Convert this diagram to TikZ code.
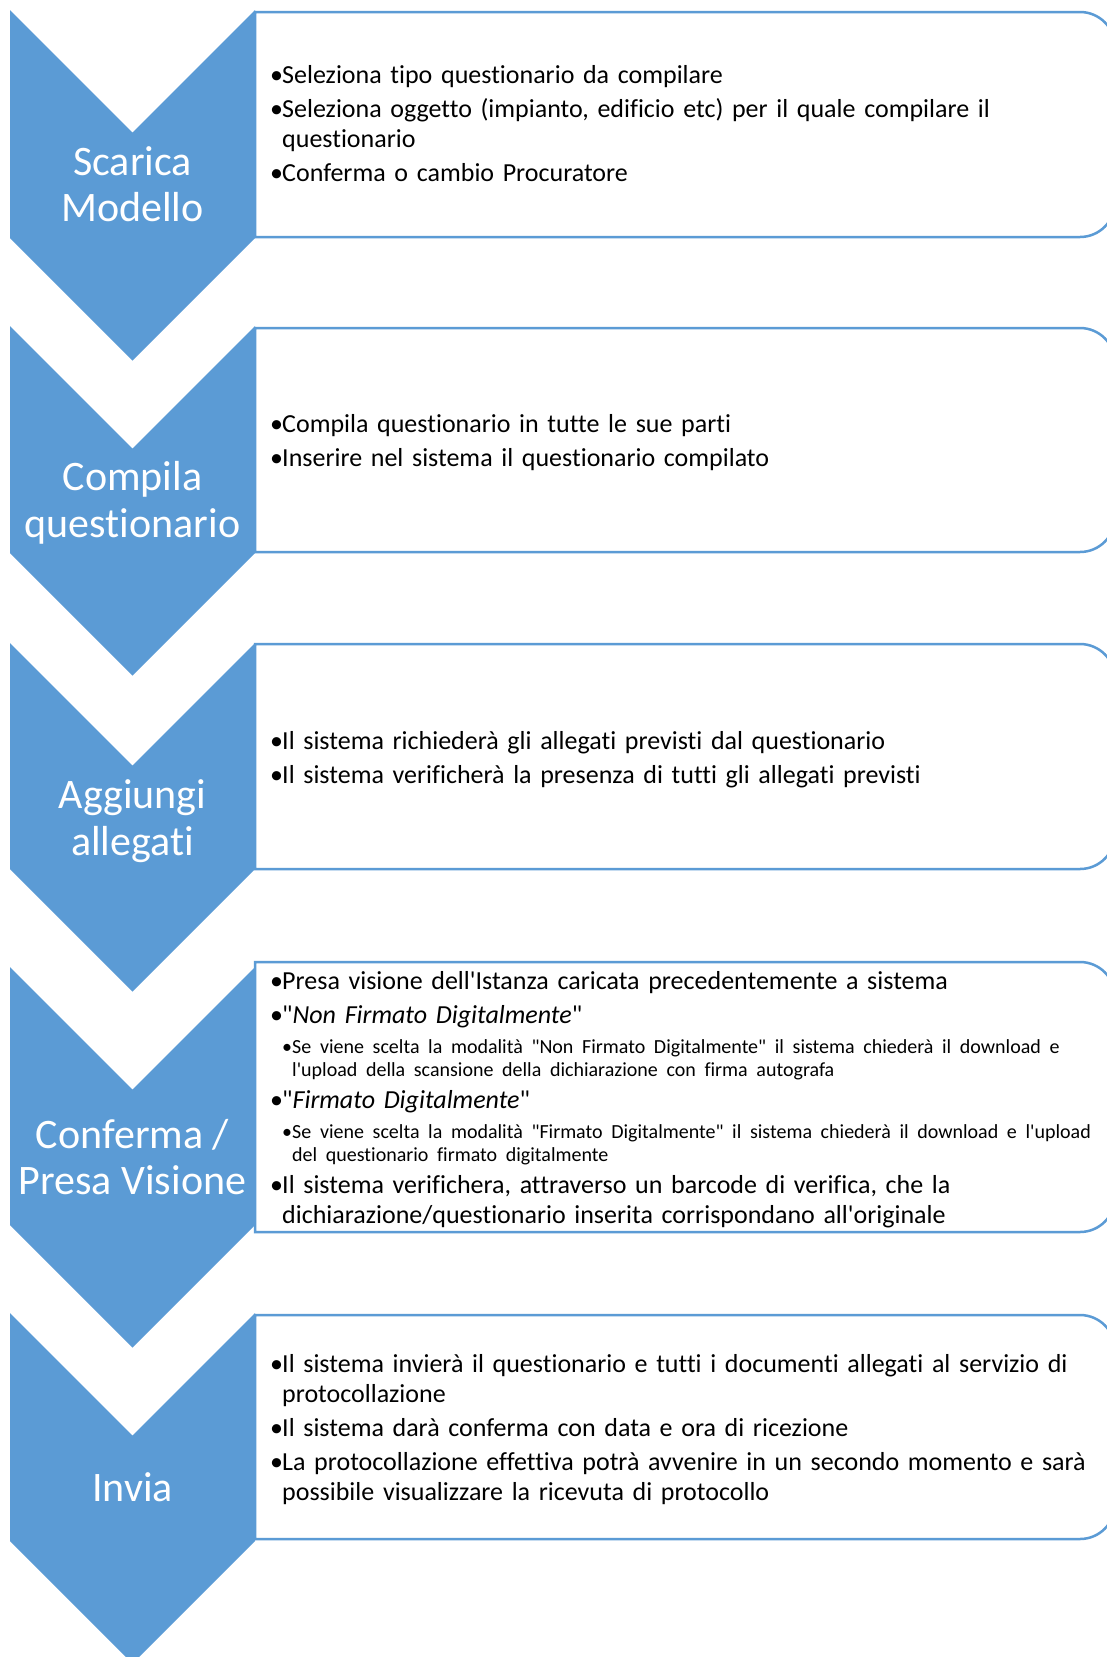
\documentclass[tikz,border=0pt]{standalone}
\usepackage{fontspec}
\setmainfont{Carlito}[Ligatures={TeXOff,NoCommon}]
\definecolor{acc}{HTML}{5B9BD5}
\newcommand{\bitem}[1]{\par\noindent\hangindent=12pt\hangafter=1\makebox[12pt][l]{•}#1\par}
\newcommand{\sitem}[1]{\par\vspace{3pt}{\fontsize{20}{23}\selectfont\leftskip=12pt\noindent\hangindent=10pt\hangafter=1\makebox[10pt][l]{•}#1\par}\vspace{-2pt}}
\tikzset{
  chev/.style={fill=acc, draw=none},
  boxline/.style={draw=acc, line width=2.5pt, fill=white},
  chevlabel/.style={text=white, font=\fontsize{42}{46.5}\selectfont, align=center, inner sep=0pt},
  boxtext/.style={anchor=west, text width=840pt, align=left, inner sep=0pt,
    font=\fontsize{26}{29.6}\selectfont\setlength\parskip{4.4pt}},
}
\newcommand{\chevpath}[2]{(10,#1) -- (132.5,#1+122.5) -- (255,#1) -- (255,#2) -- (132.5,#2+122.5) -- (10,#2) -- cycle}
\newcommand{\boxpath}[2]{(255,#1) -- (1080,#1) arc[start angle=-90,end angle=0,radius=35] -- (1115,#2-35) arc[start angle=0,end angle=90,radius=35] -- (255,#2) -- cycle}
\begin{document}
\begin{tikzpicture}[x=1pt,y=-1pt]
\useasboundingbox (0,0) rectangle (1107,1657);
\clip (0,0) rectangle (1107,1657);
\fill[white] (0,0) rectangle (1107,1657);
% boxes
\draw[boxline] \boxpath{12}{237};
\draw[boxline] \boxpath{328}{552};
\draw[boxline] \boxpath{644}{869};
\draw[boxline] \boxpath{962}{1232};
\draw[boxline] \boxpath{1315}{1539};
% chevrons
\fill[chev] \chevpath{10}{238};
\fill[chev] \chevpath{326}{553};
\fill[chev] \chevpath{643}{869};
\fill[chev] \chevpath{967}{1225};
\fill[chev] \chevpath{1313}{1541};
% chevron labels
\node[chevlabel] (l1) at (132.5,184) {Scarica\\Modello};
\node[chevlabel] (l2) at (132.5,503) {Compila\\questionario};
\node[chevlabel] (l3) at (132.5,821) {Aggiungi\\allegati};
\node[chevlabel] (l4) at (132.5,1157) {Conferma /\\Presa Visione};
\node[chevlabel] (l5) at (132.5,1487) {Invia};
% box texts
\node[boxtext] (t1) at (270,115.5) {%
\bitem{Seleziona tipo questionario da compilare}
\bitem{Seleziona oggetto (impianto, edificio etc) per il quale compilare il\newline questionario}
\bitem{Conferma o cambio Procuratore}};
\node[boxtext] (t2) at (270,434.5) {%
\bitem{Compila questionario in tutte le sue parti}
\bitem{Inserire nel sistema il questionario compilato}};
\node[boxtext] (t3) at (270,751.5) {%
\bitem{Il sistema richiederà gli allegati previsti dal questionario}
\bitem{Il sistema verificherà la presenza di tutti gli allegati previsti}};
\node[boxtext] (t4) at (270,1091.5) {%
\bitem{Presa visione dell'Istanza caricata precedentemente a sistema}
\bitem{"\textit{Non Firmato Digitalmente}"}
\sitem{Se viene scelta la modalità "Non Firmato Digitalmente" il sistema chiederà il download e\newline l'upload della scansione della dichiarazione con firma autografa}
\bitem{"\textit{Firmato Digitalmente}"}
\sitem{Se viene scelta la modalità "Firmato Digitalmente" il sistema chiederà il download e l'upload\newline del questionario firmato digitalmente}
\bitem{Il sistema verifichera, attraverso un barcode di verifica, che la\newline dichiarazione/questionario inserita corrispondano all'originale}};
\node[boxtext] (t5) at (270,1421.5) {%
\bitem{Il sistema invierà il questionario e tutti i documenti allegati al servizio di\newline protocollazione}
\bitem{Il sistema darà conferma con data e ora di ricezione}
\bitem{La protocollazione effettiva potrà avvenire in un secondo momento e sarà\newline possibile visualizzare la ricevuta di protocollo}};
\end{tikzpicture}
\end{document}
